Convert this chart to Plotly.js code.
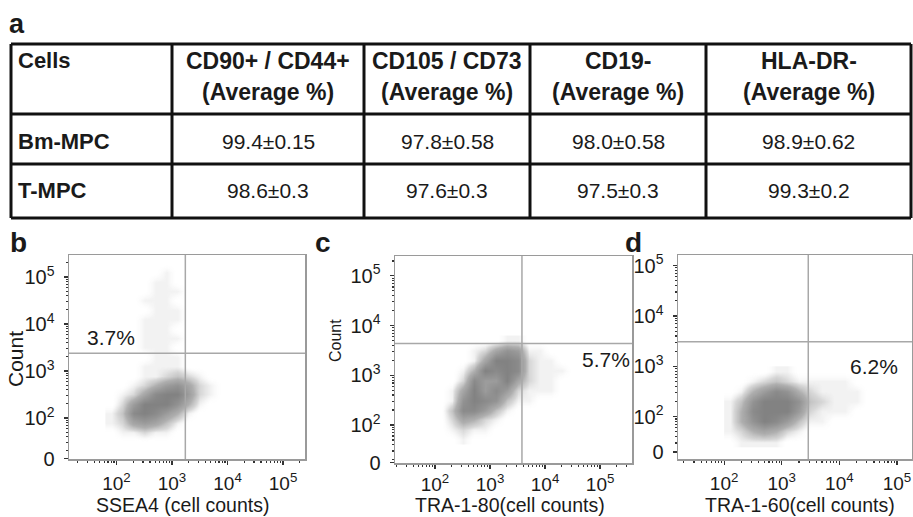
<!DOCTYPE html>
<html><head><meta charset="utf-8">
<script src="https://cdn.plot.ly/plotly-3.0.1.min.js"></script>
<style>html,body{margin:0;padding:0;background:#fff}#chart{width:913px;height:517px}</style>
</head><body><div id="chart"></div>
<script>
// ---------- Table data (panel a) ----------
const tableHeaders = ["Cells", "CD90+ / CD44+", "CD105 / CD73", "CD19-", "HLA-DR-"];
const tableSubHeaders = ["", "(Average %)", "(Average %)", "(Average %)", "(Average %)"];
const cellTypes = ["Bm-MPC", "T-MPC"];
const bmMpcValues = ["99.4±0.15", "97.8±0.58", "98.0±0.58", "98.9±0.62"];
const tMpcValues = ["98.6±0.3", "97.6±0.3", "97.5±0.3", "99.3±0.2"];

// ---------- Flow plots: axis units are decades (biexponential display) ----------
const decadeTicks = [2, 3, 4, 5];
const decadeLabels = ["10<sup>2</sup>", "10<sup>3</sup>", "10<sup>4</sup>", "10<sup>5</sup>"];

// Panel b: SSEA4
const bX = [1.9, 2.1, 2.3, 2.5, 2.7, 2.9, 3.1, 3.3, 3.5, 3.7, 3.9];
const bY = [1.5, 1.7, 1.9, 2.1, 2.3, 2.5, 2.7, 2.9, 3.1, 3.3, 3.5, 3.7, 3.9, 4.1, 4.3, 4.5, 4.7, 4.9, 5.1, 5.3];
const bDensity = [
  [0,0,0,0,0,0,0,0,0,0,0],
  [0,1,1,2,1,1,0,0,0,0,0],
  [1,2,5,6,5,3,1,0,0,0,0],
  [1,3,8,9,8,6,4,1,0,0,0],
  [0,2,6,9,9,9,7,4,1,0,0],
  [0,1,2,5,8,9,9,6,2,1,0],
  [0,0,1,2,4,6,7,5,2,1,0],
  [0,0,0,1,1,2,3,2,1,0,0],
  [0,0,0,1,1,1,1,0,0,0,0],
  [0,0,0,0,1,1,1,0,0,0,0],
  [0,0,0,1,1,1,0,0,0,0,0],
  [0,0,0,1,1,1,1,0,0,0,0],
  [0,0,0,1,1,1,0,0,0,0,0],
  [0,0,0,1,1,1,1,0,0,0,0],
  [0,0,0,0,1,1,1,0,0,0,0],
  [0,0,0,1,1,1,0,0,0,0,0],
  [0,0,0,0,1,1,1,0,0,0,0],
  [0,0,0,0,1,1,0,0,0,0,0],
  [0,0,0,0,0,1,0,0,0,0,0],
  [0,0,0,0,0,0,0,0,0,0,0]
];
const bGate = [3.24, 3.38];
const bPercent = "3.7%";
const bPercentPos = [1.9, 3.72];

// Panel c: TRA-1-80
const cX = [2.1, 2.3, 2.5, 2.7, 2.9, 3.1, 3.3, 3.5, 3.7, 3.9, 4.1, 4.3, 4.5];
const cY = [1.7, 1.9, 2.1, 2.3, 2.5, 2.7, 2.9, 3.1, 3.3, 3.5, 3.7];
const cDensity = [
  [0,0,1,0,0,0,0,0,0,0,0,0,0],
  [0,1,2,1,1,0,0,0,0,0,0,0,0],
  [0,2,5,4,2,1,0,0,0,0,0,0,0],
  [0,3,8,8,6,3,1,0,0,0,0,0,0],
  [0,1,7,9,8,7,3,1,1,0,0,0,0],
  [0,1,5,9,6,8,6,2,1,1,1,0,0],
  [0,0,2,8,6,6,9,5,2,1,1,0,0],
  [0,0,1,4,9,8,9,8,2,1,1,1,0],
  [0,0,0,1,5,9,9,8,2,1,1,0,0],
  [0,0,0,1,2,5,7,6,1,1,0,0,0],
  [0,0,0,0,0,0,1,1,0,0,0,0,0]
];
const cGate = [3.58, 3.64];
const cPercent = "5.7%";
const cPercentPos = [5.1, 3.32];

// Panel d: TRA-1-60
const dX = [2.1, 2.3, 2.5, 2.7, 2.9, 3.1, 3.3, 3.5, 3.7, 3.9, 4.1, 4.3, 4.5];
const dY = [1.5, 1.7, 1.9, 2.1, 2.3, 2.5, 2.7, 2.9];
const dDensity = [
  [0,1,1,1,1,0,0,0,0,0,0,0,0],
  [1,2,4,5,4,2,1,0,0,0,0,0,0],
  [1,4,7,9,8,6,3,1,1,0,0,0,0],
  [1,4,8,9,9,9,6,2,1,1,1,0,0],
  [1,3,7,9,9,9,7,3,2,1,1,1,0],
  [0,1,4,6,8,7,4,2,1,1,1,1,0],
  [0,0,1,2,3,2,1,1,1,1,1,0,0],
  [0,0,0,0,1,1,0,0,0,0,0,0,0]
];
const dGate = [3.46, 3.49];
const dPercent = "6.2%";
const dPercentPos = [4.6, 2.99];

const xTitles = ["SSEA4 (cell counts)", "TRA-1-80(cell counts)", "TRA-1-60(cell counts)"];
const yTitle = "Count";
const panelLetters = ["a", "b", "c", "d"];

// ---------- helpers ----------
const W = 913, H = 517;
const px = x => x / W;
const py = y => 1 - y / H;
const FONT = "Liberation Sans, Arial, Helvetica, sans-serif";
const INK = "#1a1a1a";

const minorVals = [];
for (let n = 1; n <= 5; n++) for (let k = 2; k <= 9; k++) minorVals.push(n + Math.log10(k));

const grayScale = [
  [0, "rgba(255,255,255,0)"],
  [0.11, "rgba(175,175,175,0.16)"],
  [0.22, "rgba(165,165,165,0.45)"],
  [0.45, "rgba(160,160,160,0.85)"],
  [0.7, "#999999"],
  [1, "#828282"]
];

function heat(x, y, z, xa, ya) {
  return {type: "heatmap", x: x, y: y, z: z, xaxis: xa, yaxis: ya, zmin: 0, zmax: 9,
    zsmooth: "best", colorscale: grayScale, showscale: false, hoverinfo: "skip"};
}

const traces = [
  heat(bX, bY, bDensity, "x", "y"),
  heat(cX, cY, cDensity, "x2", "y2"),
  heat(dX, dY, dDensity, "x3", "y3")
];

function xAxis(domain, range, anchor, standoff) {
  return {domain: domain, range: range, anchor: anchor, tickmode: "array",
    tickvals: decadeTicks, ticktext: decadeLabels, ticks: "outside", ticklen: 4, tickwidth: 1.2,
    tickcolor: "#333", showgrid: false, zeroline: false, showline: true, mirror: true,
    linecolor: "#9a9a9a", linewidth: 1.5, ticklabelstandoff: standoff,
    tickfont: {family: FONT, size: 19, color: INK},
    minor: {tickmode: "array", tickvals: minorVals, ticks: "outside", ticklen: 2, tickcolor: "#333", showgrid: false},
    fixedrange: true};
}
function yAxis(domain, range, anchor, zeroPos) {
  return {domain: domain, range: range, anchor: anchor, tickmode: "array",
    tickvals: [zeroPos].concat(decadeTicks), ticktext: ["0"].concat(decadeLabels),
    ticks: "outside", ticklen: 4, tickwidth: 1.2, tickcolor: "#333", showgrid: false,
    zeroline: false, showline: true, mirror: true, linecolor: "#9a9a9a", linewidth: 1.5,
    ticklabelstandoff: 5, tickfont: {family: FONT, size: 20, color: INK},
    minor: {tickmode: "array", tickvals: minorVals, ticks: "outside", ticklen: 2, tickcolor: "#333", showgrid: false},
    fixedrange: true};
}

// ---------- table shapes and annotations ----------
const shapes = [];
const annotations = [];
const tblL = 11, tblR = 911, tblT = 44, tblB = 218;
const colEdges = [tblL, 172, 364, 530, 706, tblR];
const rowEdges = [tblT, 114, 164, tblB];
colEdges.forEach(x => shapes.push({type: "line", xref: "paper", yref: "paper",
  x0: px(x), x1: px(x), y0: py(tblT), y1: py(tblB), line: {color: "#111", width: 3}}));
rowEdges.forEach(y => shapes.push({type: "line", xref: "paper", yref: "paper",
  x0: px(tblL), x1: px(tblR), y0: py(y), y1: py(y), line: {color: "#111", width: 3}}));

function ann(text, x, y, size, opts) {
  annotations.push(Object.assign({text: text, xref: "paper", yref: "paper", x: px(x), y: py(y),
    xanchor: "center", yanchor: "middle", showarrow: false,
    font: {family: FONT, size: size, color: INK}}, opts || {}));
}

// header row
tableHeaders.forEach((h, i) => {
  if (i === 0) {
    ann("<b>" + h + "</b>", 16, 61, 22, {xanchor: "left"});
  } else {
    const cx = (colEdges[i] + colEdges[i + 1]) / 2;
    ann("<b>" + h + "</b>", cx, 61, 23);
    ann("<b>" + tableSubHeaders[i] + "</b>", cx, 92, 23);
  }
});
// body rows
const bodyRows = [bmMpcValues, tMpcValues];
const rowCenters = [141, 191];
cellTypes.forEach((name, r) => {
  ann("<b>" + name + "</b>", 16, rowCenters[r], 22, {xanchor: "left"});
  bodyRows[r].forEach((v, i) => {
    const cx = (colEdges[i + 1] + colEdges[i + 2]) / 2;
    ann(v, cx, rowCenters[r], 21);
  });
});

// panel letters
ann("<b>" + panelLetters[0] + "</b>", 17, 24, 27);
ann("<b>" + panelLetters[1] + "</b>", 18, 243, 28);
ann("<b>" + panelLetters[2] + "</b>", 323, 243, 28);
ann("<b>" + panelLetters[3] + "</b>", 633, 243, 28);

// axis titles
ann(yTitle, 15, 359, 21, {textangle: -90});
ann(yTitle, 335, 341, 16, {textangle: -90});
ann(xTitles[0], 182, 505, 19.5);
ann(xTitles[1], 510, 505, 19.5);
ann(xTitles[2], 800, 505, 19.5);

// quadrant gates & percentages
function gate(g, xa, ya, label, pos, anchor) {
  shapes.push({type: "line", xref: xa, yref: ya + " domain", x0: g[0], x1: g[0], y0: 0, y1: 1,
    line: {color: "#a8a8a8", width: 1.5}});
  shapes.push({type: "line", xref: xa + " domain", yref: ya, x0: 0, x1: 1, y0: g[1], y1: g[1],
    line: {color: "#a8a8a8", width: 1.5}});
  annotations.push({text: label, xref: xa, yref: ya, x: pos[0], y: pos[1], showarrow: false,
    xanchor: anchor || "center", yanchor: "middle", font: {family: FONT, size: 21, color: INK}});
}
gate(bGate, "x", "y", bPercent, bPercentPos);
gate(cGate, "x2", "y2", cPercent, cPercentPos);
gate(dGate, "x3", "y3", dPercent, dPercentPos);

const layout = {
  width: W, height: H, margin: {l: 0, r: 0, t: 0, b: 0},
  paper_bgcolor: "#fff", plot_bgcolor: "rgba(0,0,0,0)", showlegend: false,
  font: {family: FONT, color: INK},
  xaxis: xAxis([px(69), px(305)], [1.144, 5.396], "y", 3),
  yaxis: yAxis([py(459), py(255)], [1.128, 5.468], "x", 1.135),
  xaxis2: xAxis([px(395), px(632)], [1.273, 5.58], "y2", 0),
  yaxis2: yAxis([py(463), py(256)], [1.235, 5.40], "x2", 1.245),
  xaxis3: xAxis([px(678), px(912)], [1.20, 5.26], "y3", 3),
  yaxis3: yAxis([py(459), py(255)], [1.16, 5.21], "x3", 1.30),
  shapes: shapes, annotations: annotations
};

Plotly.newPlot("chart", traces, layout, {displayModeBar: false, staticPlot: true});
</script></body></html>
